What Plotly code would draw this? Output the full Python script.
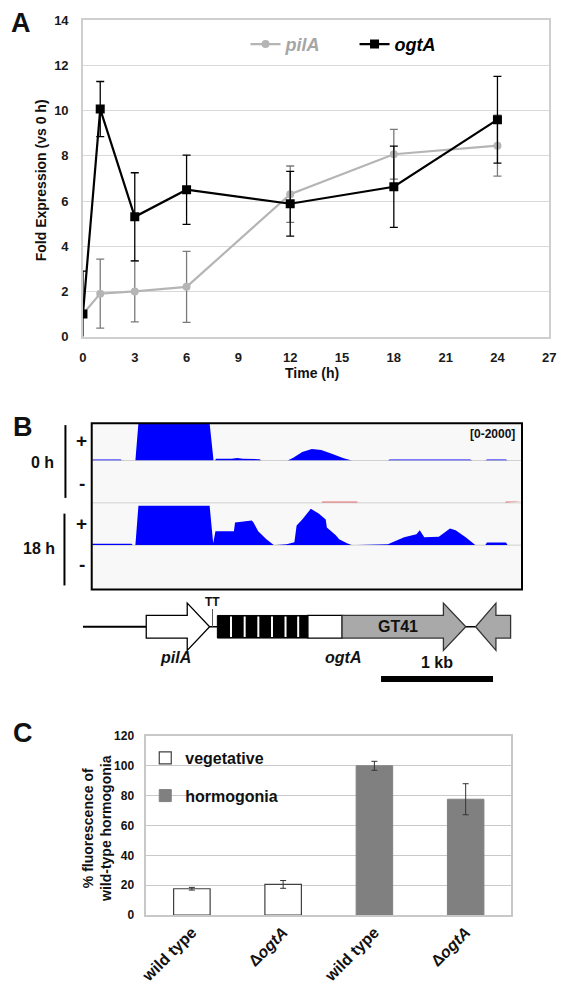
import plotly.graph_objects as go

W, H = 566, 985
FONT = "Liberation Sans, Arial, sans-serif"

# ---------------- Panel A data ----------------
time_h = [0, 1, 3, 6, 12, 18, 24]
pilA_fold = [1.0, 1.9, 2.0, 2.2, 6.3, 8.07, 8.45]
pilA_err = [0, 1.53, 1.35, 1.57, 1.25, 1.1, 1.35]
ogtA_fold = [1.0, 10.07, 5.3, 6.5, 5.88, 6.63, 9.6]
ogtA_err = [1.9, 1.22, 1.95, 1.53, 1.43, 1.8, 1.92]
time_ticks = [0, 3, 6, 9, 12, 15, 18, 21, 24, 27]

# ---------------- Panel B data (RNA-seq coverage, bp) ----------------
cov0p_bp = [0, 10, 260, 270, 390, 417, 1053, 1088, 1100, 1110, 1250, 1300, 1350, 1500, 1514,
            1749, 1800, 1880, 1966, 2050, 2150, 2250, 2323, 2645, 2660, 2900, 3000, 3100,
            3380, 3400, 3515, 3530, 3700, 3714, 3843]
cov0p_val = [0, 60, 60, 0, 0, 2000, 2000, 0, 0, 90, 100, 130, 100, 70, 0,
             0, 150, 450, 620, 560, 350, 120, 0, 0, 50, 60, 70, 60,
             50, 0, 0, 50, 50, 0, 0]
cov0m_bp = [2052, 2060, 2370, 2375, None, 3690, 3700, 3843]
cov0m_val = [0, 60, 60, 0, None, 0, 60, 60]
cov18p_bp = [0, 10, 355, 365, 390, 417, 1053, 1085, 1105, 1270, 1280, 1350, 1400, 1430, 1445,
             1487, 1560, 1627, 1740, 1757, 1810, 1830, 1880, 1957, 2030, 2090, 2100, 2180,
             2210, 2280, 2323, 2645, 2790, 2900, 2930, 2970, 3100, 3200, 3250, 3340, 3427,
             3515, 3530, 3700, 3714, 3843]
cov18p_val = [0, 70, 70, 0, 0, 2000, 2000, 100, 700, 700, 1150, 1180, 1200, 1250, 1150,
              700, 300, 0, 40, 60, 150, 1000, 1300, 1850, 1600, 1300, 900, 500,
              300, 100, 0, 40, 400, 550, 750, 400, 420, 850, 750, 400, 0,
              0, 130, 130, 0, 0]
cov18m_bp = [3660, 3843]
cov18m_val = [0, 110]
track_max = 2000
region_bp = 3843

# gene map (bp)
upstream_line = [-78, 487]
pilA_gene = [487, 853, 1053]          # start, head base, tip
tt_bp = 1079
repeat_box = [1122, 1931]
repeat_stripes = [1244, 1366, 1488, 1610, 1731, 1844]
ogtA_white = [1931, 2236]
gt41_gene = [2236, 3141, 3341]
rev_gene = [3741, 3610, 3428]         # far end, head base, tip
scale_bar = [2584, 3584]

# ---------------- Panel C data ----------------
strain_labels = ["wild type", "Δ<i>ogtA</i>", "wild type", "Δ<i>ogtA</i>"]
veg_x = [0, 1]
veg_val = [17.6, 20.5]
veg_err = [0.9, 2.6]
horm_x = [2, 3]
horm_val = [100, 77.6]
horm_err = [3.0, 10.4]


def px(x):
    return x / W


def py(y):
    return 1 - y / H


BP_PER_PX = region_bp / 442.0

fig = go.Figure()

# ---- Panel A traces ----
fig.add_trace(go.Scatter(
    x=time_h, y=pilA_fold, mode="lines+markers",
    name='<span style="color:#a6a6a6">pilA</span>',
    line=dict(color="#b5b5b5", width=2.2),
    marker=dict(symbol="circle", size=8, color="#b5b5b5"),
    error_y=dict(type="data", array=pilA_err, color="#7a7a7a", thickness=1.3, width=4),
    xaxis="x", yaxis="y", legend="legend"))
fig.add_trace(go.Scatter(
    x=time_h, y=ogtA_fold, mode="lines+markers",
    name='<span style="color:#000000">ogtA</span>',
    line=dict(color="#000000", width=2.2),
    marker=dict(symbol="square", size=9, color="#000000"),
    error_y=dict(type="data", array=ogtA_err, color="#000000", thickness=1.3, width=4),
    xaxis="x", yaxis="y", legend="legend"))

# ---- Panel B traces ----
BLUE = "#0000ff"
for xs, ys, ya, col in [
    (cov0p_bp, cov0p_val, "y2", BLUE),
    (cov0m_bp, cov0m_val, "y3", "#e07070"),
    (cov18p_bp, cov18p_val, "y4", BLUE),
    (cov18m_bp, cov18m_val, "y5", "#d00000"),
]:
    fig.add_trace(go.Scatter(
        x=xs, y=ys, mode="lines", fill="toself", fillcolor=col,
        line=dict(color=col, width=0), showlegend=False, hoverinfo="skip",
        connectgaps=False, xaxis="x2", yaxis=ya))

# ---- Panel C traces ----
fig.add_trace(go.Bar(
    x=veg_x, y=veg_val, name="vegetative", width=0.4,
    marker=dict(color="#ffffff", line=dict(color="#404040", width=1.2)),
    error_y=dict(type="data", array=veg_err, color="#333333", thickness=1, width=3),
    xaxis="x4", yaxis="y6", legend="legend2", legendgroup="a"))
fig.add_trace(go.Bar(
    x=horm_x, y=horm_val, name="hormogonia", width=0.4,
    marker=dict(color="#808080", line=dict(color="#808080", width=1)),
    error_y=dict(type="data", array=horm_err, color="#333333", thickness=1, width=3),
    xaxis="x4", yaxis="y6", legend="legend2", legendgroup="b"))

# gene map axis carrier (invisible)
fig.add_trace(go.Scatter(x=[scale_bar[0]], y=[683], mode="markers",
                         marker=dict(size=1, opacity=0), showlegend=False,
                         hoverinfo="skip", xaxis="x3", yaxis="y7"))

tickfont = dict(family=FONT, size=13, color="#1a1a1a", weight="bold")
shapes = []
annotations = []

# ---- Panel B frame & guides ----
shapes.append(dict(type="rect", xref="paper", yref="paper", x0=px(86), x1=px(528),
                   y0=py(592), y1=py(423), fillcolor="#f8f8f8", line=dict(width=0), layer="below"))
for yy in [461, 504, 547]:
    shapes.append(dict(type="line", xref="paper", yref="paper", x0=px(86), x1=px(528),
                       y0=py(yy), y1=py(yy), line=dict(color="#d0d0d0", width=1), layer="below"))
shapes.append(dict(type="rect", xref="paper", yref="paper", x0=px(86), x1=px(528),
                   y0=py(592), y1=py(423), line=dict(color="#000000", width=2)))
shapes.append(dict(type="line", xref="paper", yref="paper", x0=px(59), x1=px(59),
                   y0=py(499), y1=py(425), line=dict(color="#000000", width=2)))
shapes.append(dict(type="line", xref="paper", yref="paper", x0=px(58), x1=px(58),
                   y0=py(588), y1=py(515), line=dict(color="#000000", width=2)))

# ---- Gene map (x3 = bp, y7 = pixel rows) ----
def g(path_pts):
    return "M " + " L ".join(f"{a},{b}" for a, b in path_pts) + " Z"

yc, hb, hh = 630, 11.5, 24
shapes.append(dict(type="line", xref="x3", yref="y7", x0=upstream_line[0], x1=upstream_line[1],
                   y0=yc, y1=yc, line=dict(color="#000000", width=2)))
shapes.append(dict(type="line", xref="x3", yref="y7", x0=pilA_gene[2], x1=repeat_box[0],
                   y0=yc, y1=yc, line=dict(color="#000000", width=1.5)))
shapes.append(dict(type="line", xref="x3", yref="y7", x0=gt41_gene[2], x1=rev_gene[2],
                   y0=yc, y1=yc, line=dict(color="#000000", width=1.5)))
shapes.append(dict(type="path", xref="x3", yref="y7",
                   path=g([(pilA_gene[0], yc - hb), (pilA_gene[1], yc - hb), (pilA_gene[1], yc - hh),
                           (pilA_gene[2], yc), (pilA_gene[1], yc + hh), (pilA_gene[1], yc + hb),
                           (pilA_gene[0], yc + hb)]),
                   fillcolor="#ffffff", line=dict(color="#000000", width=1.3)))
shapes.append(dict(type="line", xref="x3", yref="y7", x0=tt_bp, x1=tt_bp, y0=612, y1=yc,
                   line=dict(color="#555555", width=1)))
shapes.append(dict(type="rect", xref="x3", yref="y7", x0=repeat_box[0], x1=repeat_box[1],
                   y0=yc - hb, y1=yc + hb, fillcolor="#000000", line=dict(color="#000000", width=1)))
for s in repeat_stripes:
    shapes.append(dict(type="line", xref="x3", yref="y7", x0=s, x1=s, y0=yc - hb + 1, y1=yc + hb - 1,
                       line=dict(color="#ffffff", width=2)))
shapes.append(dict(type="rect", xref="x3", yref="y7", x0=ogtA_white[0], x1=ogtA_white[1],
                   y0=yc - hb, y1=yc + hb, fillcolor="#ffffff", line=dict(color="#000000", width=1.3)))
shapes.append(dict(type="path", xref="x3", yref="y7",
                   path=g([(gt41_gene[0], yc - hb), (gt41_gene[1], yc - hb), (gt41_gene[1], yc - hh),
                           (gt41_gene[2], yc), (gt41_gene[1], yc + hh), (gt41_gene[1], yc + hb),
                           (gt41_gene[0], yc + hb)]),
                   fillcolor="#a9a9a9", line=dict(color="#333333", width=1.3)))
shapes.append(dict(type="path", xref="x3", yref="y7",
                   path=g([(rev_gene[0], yc - hb), (rev_gene[1], yc - hb), (rev_gene[1], yc - hh),
                           (rev_gene[2], yc), (rev_gene[1], yc + hh), (rev_gene[1], yc + hb),
                           (rev_gene[0], yc + hb)]),
                   fillcolor="#a9a9a9", line=dict(color="#333333", width=1.3)))
shapes.append(dict(type="line", xref="x3", yref="y7", x0=scale_bar[0], x1=scale_bar[1],
                   y0=683, y1=683, line=dict(color="#000000", width=6)))


def ann(text, x, y, size, xref="paper", yref="paper", conv=True, **kw):
    d = dict(text=text, x=px(x) if conv else x, y=py(y) if conv else y, xref=xref, yref=yref,
             showarrow=False, xanchor="center", yanchor="middle",
             font=dict(family=FONT, size=size, color=kw.pop("color", "#111111"),
                       weight="bold", style=kw.pop("style", "normal")))
    d.update(kw)
    annotations.append(d)


# panel letters
ann("A", 13, 16, 27)
ann("B", 15, 427, 27)
ann("C", 15, 738, 27)

# panel A titles
ann("Fold Expression (vs 0 h)", 34, 176, 14, textangle=-90)
ann("Time (h)", 312, 372, 14)

# panel B labels
ann("+", 76, 441, 19)
ann("-", 76, 484, 19)
ann("+", 76, 525, 19)
ann("-", 76, 567, 19)
ann("0 h", 35, 463, 16)
ann("18 h", 32, 550, 16)
ann("[0-2000]", 523, 434, 12, xanchor="right")

# gene map labels
ann("TT", tt_bp, 605, 12, xref="x3", yref="y7", conv=False)
ann("GT41", 2731, yc, 16, xref="x3", yref="y7", conv=False)
ann("pilA", 748, 661, 16, xref="x3", yref="y7", conv=False, style="italic")
ann("ogtA", 2245, 661, 16, xref="x3", yref="y7", conv=False, style="italic")
ann("1 kb", 3080, 666, 16, xref="x3", yref="y7", conv=False)

# panel C y title
ann("% fluorescence of<br>wild-type hormogonia", 92, 835, 14, textangle=-90)

fig.update_layout(
    width=W, height=H, autosize=False,
    margin=dict(l=0, r=0, t=0, b=0),
    paper_bgcolor="#ffffff", plot_bgcolor="rgba(0,0,0,0)",
    font=dict(family=FONT, color="#111111"),
    showlegend=True,
    barmode="overlay",
    shapes=shapes, annotations=annotations,
    # Panel A
    xaxis=dict(domain=[px(77), px(556)], range=[0, 27], tickvals=time_ticks,
               showgrid=False, zeroline=False, showline=True, mirror=True,
               linecolor="#cfcfcf", linewidth=1.5, ticks="", tickfont=tickfont,
               ticklabelstandoff=8, anchor="y", fixedrange=True),
    yaxis=dict(domain=[py(335), py(13.5)], range=[0, 14], dtick=2,
               showgrid=True, gridcolor="#d9d9d9", gridwidth=1, zeroline=False,
               showline=True, mirror=True, linecolor="#cfcfcf", linewidth=1.5,
               ticks="", tickfont=tickfont, ticklabelstandoff=10, anchor="x"),
    legend=dict(orientation="h", x=px(244), y=py(38), xanchor="left", yanchor="middle",
                bgcolor="rgba(0,0,0,0)", entrywidth=64, entrywidthmode="pixels",
                font=dict(family=FONT, size=18, weight="bold", style="italic")),
    # Panel B
    xaxis2=dict(domain=[px(86), px(528)], range=[0, region_bp], visible=False, anchor="y2"),
    yaxis2=dict(domain=[py(461), py(423)], range=[0, track_max], visible=False, anchor="x2"),
    yaxis3=dict(domain=[py(504), py(461)], range=[0, track_max], visible=False, anchor="x2"),
    yaxis4=dict(domain=[py(547), py(504)], range=[0, track_max * 43 / 40], visible=False, anchor="x2"),
    yaxis5=dict(domain=[py(592), py(547)], range=[0, track_max], visible=False, anchor="x2"),
    # gene map
    xaxis3=dict(domain=[0, 1], range=[-86 * BP_PER_PX, (W - 86) * BP_PER_PX], visible=False, anchor="y7"),
    yaxis7=dict(domain=[py(700), py(598)], range=[700, 598], visible=False, anchor="x3"),
    # Panel C
    xaxis4=dict(domain=[px(142), px(517)], range=[-0.5, 3.5], tickvals=[0, 1, 2, 3],
                ticktext=strain_labels, tickangle=-45, showgrid=False, zeroline=False,
                showline=True, mirror=True, linecolor="#c8c8c8", linewidth=1.5, ticks="",
                tickfont=dict(family=FONT, size=16, color="#111111", weight="bold"), anchor="y6"),
    yaxis6=dict(domain=[py(923), py(741)], range=[0, 120], dtick=20, showgrid=True,
                gridcolor="#c8c8c8", gridwidth=1, zeroline=False, showline=True, mirror=True,
                linecolor="#c8c8c8", linewidth=1.5, ticks="", ticklabelstandoff=8,
                tickfont=dict(family=FONT, size=12, color="#111111", weight="bold"), anchor="x4"),
    legend2=dict(orientation="v", x=px(141), y=py(746), xanchor="left", yanchor="top",
                 bgcolor="rgba(0,0,0,0)", tracegroupgap=14,
                 font=dict(family=FONT, size=16, weight="bold", color="#111111")),
)

fig.write_html("out.html", config={"displayModeBar": False},
               post_script="document.body.style.margin='0px';")
